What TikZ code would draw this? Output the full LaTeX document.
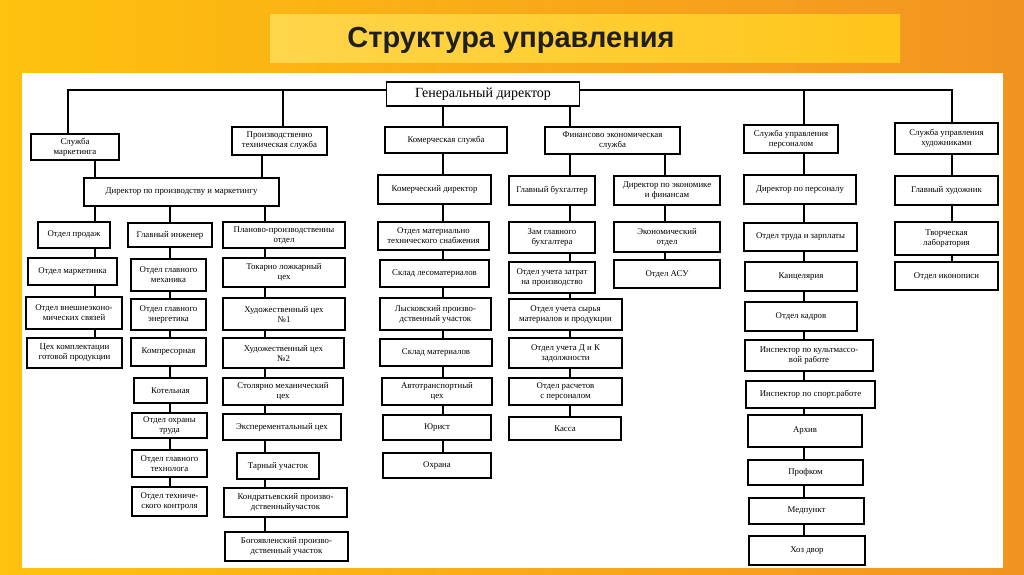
\documentclass[tikz,border=0pt]{standalone}
\usepackage{fontspec}
\setmainfont{Liberation Serif}
\newfontfamily\titlefont{Liberation Sans}
\definecolor{bgl}{HTML}{FFC20E}
\definecolor{bgr}{HTML}{F39322}
\definecolor{band}{HTML}{FFD54A}
\definecolor{ttl}{HTML}{1F1F1F}
\tikzset{bx/.style={draw=black,line width=1.1pt,fill=white,inner sep=1pt,align=center,font=\fontsize{8.8}{10}\selectfont},
ln/.style={line width=1.1pt,draw=black}}
\newcommand{\B}[6]{\node[bx,minimum width=#4pt-#2pt,minimum height=#5pt-#3pt] (#1) at ({(#2+#4)/2},{(#3+#5)/2}) {#6};}
\begin{document}
\begin{tikzpicture}[x=1pt,y=-1pt]
\useasboundingbox (0,0) rectangle (1024,574);
\shade[left color=bgl,right color=bgr] (0,0) rectangle (1024,574);
\shade[left color=band,right color=bgl!80!band] (270,14) rectangle (900,62);
\node[font=\titlefont\bfseries\fontsize{29}{32}\selectfont,text=ttl] (title) at (511,40) {Структура управления};
\fill[white] (22,73) rectangle (1003,568);
% top
\node[bx,font=\fontsize{14}{15}\selectfont,minimum width=193pt,minimum height=24pt] (gd) at (483,94) {Генеральный директор};
\coordinate (tl) at (68,90); \coordinate (tr) at (952,90);
% column 1-3
\B{sm}{31}{134}{119}{160}{Служба\\маркетинга}
\B{pts}{232}{127}{327}{155}{Производственно\\техническая служба}
\B{dpm}{84}{178}{279}{206}{Директор по производству и маркетингу}
\B{op}{38}{222}{110}{248}{Отдел продаж}
\B{om}{28}{258}{117}{285}{Отдел маркетинка}
\B{ove}{26}{297}{122}{329}{Отдел внешнеэконо-\\мических связей}
\B{ck}{27}{338}{122}{368}{Цех комплектации\\готовой продукции}
\B{gi}{128}{223}{212}{247}{Главный инженер}
\B{ogm}{131}{259}{206}{291}{Отдел главного\\механика}
\B{oge}{131}{299}{206}{330}{Отдел главного\\энергетика}
\B{kom}{131}{338}{206}{366}{Компресорная}
\B{kot}{134}{378}{207}{403}{Котельная}
\B{oot}{132}{413}{207}{438}{Отдел охраны\\труда}
\B{ogt}{132}{450}{207}{477}{Отдел главного\\технолога}
\B{otk}{132}{487}{207}{516}{Отдел техниче-\\ского контроля}
\B{ppo}{223}{222}{345}{248}{Планово-производственны\\отдел}
\B{tl1}{223}{258}{345}{287}{Токарно ложкарный\\цех}
\B{h1}{223}{298}{345}{330}{Художественный цех\\№1}
\B{h2}{223}{338}{344}{368}{Художественный цех\\№2}
\B{sme}{223}{378}{343}{405}{Столярно механический\\цех}
\B{ec}{223}{414}{341}{440}{Эксперементальный цех}
\B{tu}{237}{453}{319}{479}{Тарный участок}
\B{kpu}{224}{488}{347}{517}{Кондратьевский произво-\\дственныйучасток}
\B{bpu}{225}{532}{348}{561}{Богоявленский произво-\\дственный участок}
% commercial
\B{ks}{385}{127}{507}{153}{Комерческая служба}
\B{kd}{378}{175}{491}{204}{Комерческий директор}
\B{omt}{378}{222}{489}{250}{Отдел материально\\технического снабжения}
\B{sl}{380}{260}{489}{287}{Склад лесоматериалов}
\B{lpu}{380}{298}{491}{330}{Лысковский произво-\\дственный участок}
\B{skm}{380}{339}{492}{366}{Склад материалов}
\B{atc}{382}{378}{492}{405}{Автотранспортный\\цех}
\B{ur}{383}{415}{491}{440}{Юрист}
\B{oh}{383}{453}{491}{478}{Охрана}
% finance
\B{fes}{545}{127}{680}{154}{Финансово экономическая\\служба}
\B{gb}{509}{176}{595}{205}{Главный бухгалтер}
\B{zgb}{509}{222}{595}{253}{Зам главного\\бухгалтера}
\B{ouz}{509}{262}{595}{293}{Отдел учета затрат\\на производство}
\B{ous}{509}{299}{622}{330}{Отдел учета сырья\\материалов и продукции}
\B{oudk}{509}{338}{622}{368}{Отдел учета Д и К\\задолжности}
\B{orp}{509}{378}{622}{405}{Отдел расчетов\\с персоналом}
\B{kas}{509}{417}{621}{440}{Касса}
\B{def}{614}{176}{720}{205}{Директор по экономике\\и финансам}
\B{eo}{614}{222}{720}{252}{Экономический\\отдел}
\B{asu}{614}{260}{720}{288}{Отдел АСУ}
% personnel
\B{sup}{744}{125}{838}{153}{Служба управления\\персоналом}
\B{dp}{744}{175}{856}{204}{Директор по персоналу}
\B{otz}{744}{223}{857}{251}{Отдел труда и зарплаты}
\B{kan}{745}{262}{857}{291}{Канцелярия}
\B{okd}{745}{302}{857}{331}{Отдел кадров}
\B{ikr}{745}{340}{873}{371}{Инспектор по культмассо-\\вой работе}
\B{isr}{746}{381}{875}{408}{Инспектор по спорт.работе}
\B{arh}{748}{415}{862}{447}{Архив}
\B{prf}{748}{460}{863}{485}{Профком}
\B{med}{749}{498}{864}{524}{Медпункт}
\B{hd}{749}{536}{865}{565}{Хоз двор}
% artists
\B{suh}{895}{123}{998}{154}{Служба управления\\художниками}
\B{gh}{895}{176}{998}{205}{Главный художник}
\B{tvl}{895}{222}{998}{255}{Творческая\\лаборатория}
\B{oik}{895}{262}{998}{290}{Отдел иконописи}
% column x coordinates
\coordinate (c1) at (95,0); \coordinate (c2) at (170,0); \coordinate (c3) at (265,0);
\coordinate (c4) at (443,0); \coordinate (c5) at (570,0); \coordinate (c6) at (665,0);
\coordinate (c7) at (804,0); \coordinate (c8) at (952,0); \coordinate (cpt) at (283,0);
\coordinate (csm) at (68,0); \coordinate (cpt2) at (262,0);
\draw[ln] (sm.north -| tl) -- (tl) -- (tl -| gd.west);
\draw[ln] (tr -| gd.east) -- (tr) -- (suh.north -| tr);
\draw[ln] (cpt |- tl) -- (pts.north -| cpt);
\draw[ln] (sup.north -| c7) -- (c7 |- tr);
\draw[ln] (gd.south -| c4) -- (ks.north -| c4);
\draw[ln] (gd.south -| c5) -- (fes.north -| c5);
\draw[ln] (sm.south -| c1) -- (dpm.north -| c1);
\draw[ln] (pts.south -| cpt2) -- (dpm.north -| cpt2);
\draw[ln] (fes.south -| c6) -- (def.north -| c6);
\foreach \a/\b/\c in {dpm/op/c1,op/om/c1,om/ove/c1,ove/ck/c1,
 dpm/gi/c2,gi/ogm/c2,ogm/oge/c2,oge/kom/c2,kom/kot/c2,kot/oot/c2,oot/ogt/c2,ogt/otk/c2,
 dpm/ppo/c3,ppo/tl1/c3,tl1/h1/c3,h1/h2/c3,h2/sme/c3,sme/ec/c3,ec/tu/c3,tu/kpu/c3,kpu/bpu/c3,
 ks/kd/c4,kd/omt/c4,omt/sl/c4,sl/lpu/c4,lpu/skm/c4,skm/atc/c4,atc/ur/c4,ur/oh/c4,
 fes/gb/c5,gb/zgb/c5,zgb/ouz/c5,ouz/ous/c5,ous/oudk/c5,oudk/orp/c5,orp/kas/c5,
 def/eo/c6,eo/asu/c6,
 sup/dp/c7,dp/otz/c7,otz/kan/c7,kan/okd/c7,okd/ikr/c7,ikr/isr/c7,isr/arh/c7,arh/prf/c7,prf/med/c7,med/hd/c7,
 suh/gh/c8,gh/tvl/c8,tvl/oik/c8}
 {\draw[ln] (\a.south -| \c) -- (\b.north -| \c);}
\end{tikzpicture}
\end{document}
